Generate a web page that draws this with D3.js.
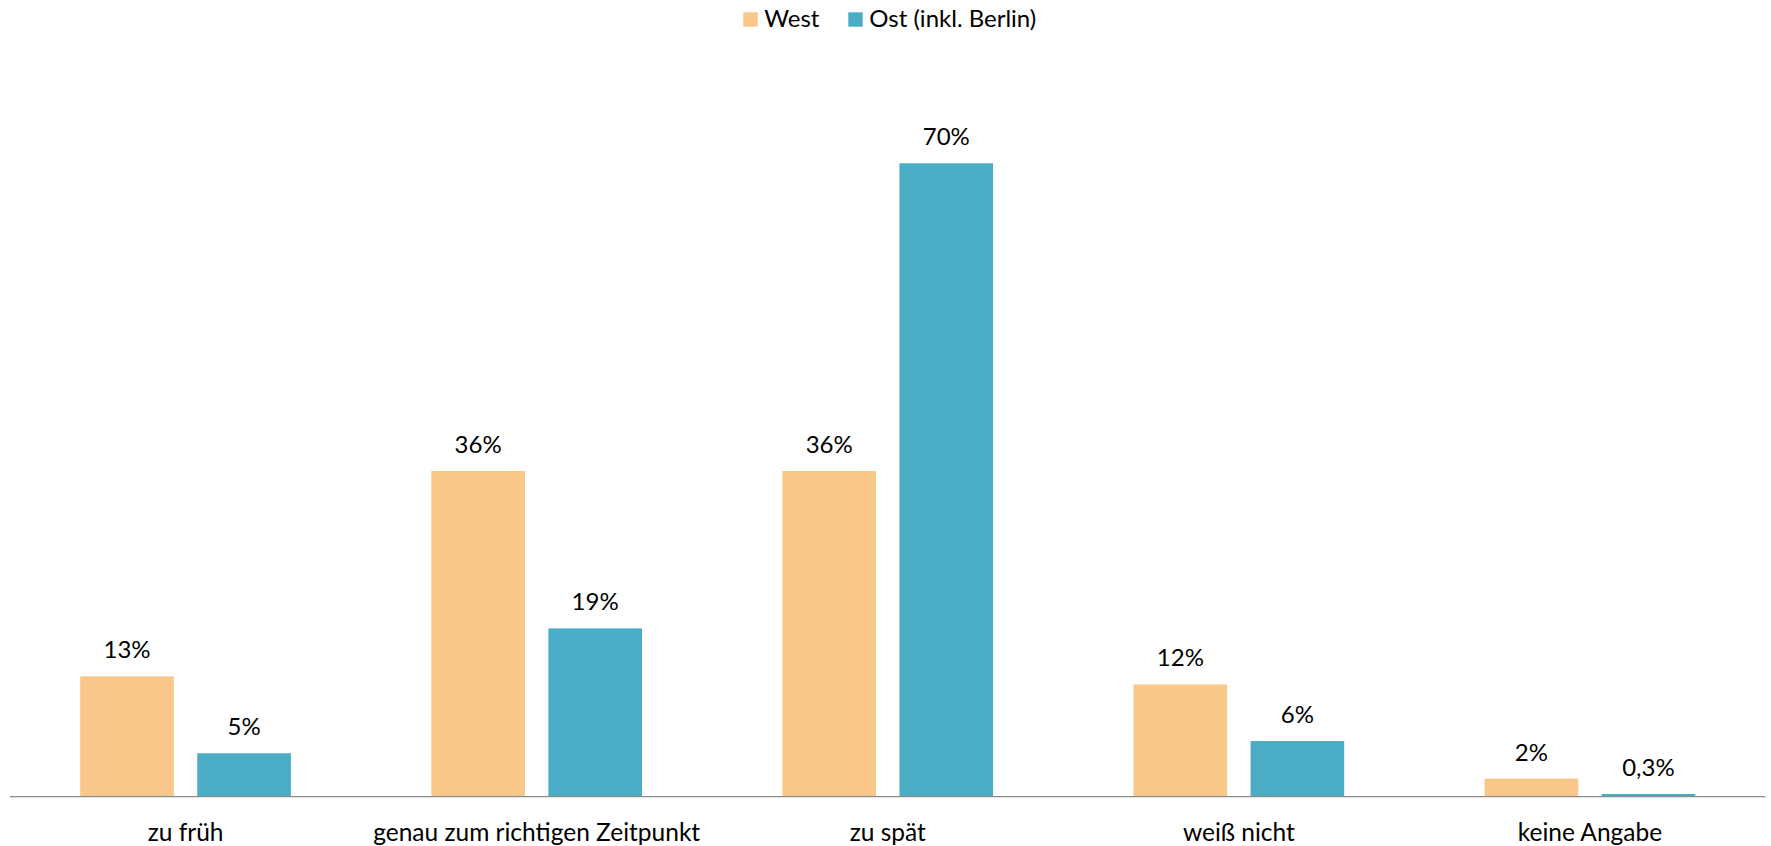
<!DOCTYPE html>
<html lang="de">
  <head>
    <meta charset="UTF-8" />
    <title>West / Ost</title>
    <script src="https://d3js.org/d3.v7.min.js"></script>
    <style>
      html, body { margin: 0; padding: 0; background: #fff; }
      svg { display: block; font-family: Lato, "Open Sans", sans-serif; }
    </style>
  </head>
  <body>
    <div id="chart"></div>
    <script>
      const categories = ["zu früh", "genau zum richtigen Zeitpunkt", "zu spät", "weiß nicht", "keine Angabe"];
      const seriesNames = ["West", "Ost (inkl. Berlin)"];
      const westValues = [13.3, 36, 36, 12.4, 2];
      const ostValues = [4.8, 18.6, 70, 6.15, 0.3];
      const seriesColors = ["#F8C789", "#4BACC6"];

      const width = 1771, height = 846;
      const left = 10, right = 1765.5, baseY = 796.7, topY = 163.3;

      const svg = d3.select("#chart").append("svg")
        .attr("width", width).attr("height", height);

      const x0 = d3.scaleBand().domain(categories).range([left, right])
        .paddingInner(0.4).paddingOuter(0.2);
      const x1 = d3.scaleBand().domain(seriesNames).range([0, x0.bandwidth()])
        .paddingInner(0.2);
      const y = d3.scaleLinear().domain([0, 70]).range([baseY, topY]);

      const fmt = v => (v < 1 ? d3.format(".1f")(v).replace(".", ",") : d3.format(".0f")(v)) + "%";

      const rows = categories.map((c, i) => ({
        cat: c,
        vals: [westValues[i], ostValues[i]]
      }));

      const groups = svg.selectAll("g.grp").data(rows).enter().append("g")
        .attr("class", "grp")
        .attr("transform", d => `translate(${x0(d.cat)},0)`);

      groups.selectAll("rect").data(d => d.vals.map((v, j) => ({ s: seriesNames[j], v, j })))
        .enter().append("rect")
        .attr("x", d => x1(d.s))
        .attr("y", d => y(d.v))
        .attr("width", x1.bandwidth())
        .attr("height", d => baseY - y(d.v))
        .attr("fill", d => seriesColors[d.j]);

      groups.selectAll("text.val").data(d => d.vals.map((v, j) => ({ s: seriesNames[j], v, j })))
        .enter().append("text")
        .attr("class", "val")
        .attr("x", d => x1(d.s) + x1.bandwidth() / 2)
        .attr("y", d => y(d.v) - 18)
        .attr("text-anchor", "middle")
        .attr("font-size", 24)
        .attr("fill", "#000")
        .text(d => fmt(d.v));

      // baseline axis
      svg.append("line")
        .attr("x1", left).attr("x2", right)
        .attr("y1", baseY).attr("y2", baseY)
        .attr("stroke", "#8c8c8c").attr("stroke-width", 1.3);

      svg.selectAll("text.cat").data(categories).enter().append("text")
        .attr("class", "cat")
        .attr("x", d => x0(d) + x0.bandwidth() / 2)
        .attr("y", 841)
        .attr("text-anchor", "middle")
        .attr("font-size", 24.5)
        .attr("fill", "#000")
        .text(d => d);

      // legend
      const legendX = [743.3, 848.3];
      const legend = svg.selectAll("g.leg").data(seriesNames).enter().append("g")
        .attr("class", "leg")
        .attr("transform", (d, i) => `translate(${legendX[i]},12.3)`);
      legend.append("rect").attr("width", 14.4).attr("height", 14.4)
        .attr("fill", (d, i) => seriesColors[i]);
      legend.append("text").attr("x", 21).attr("y", 14.8)
        .attr("font-size", 24).attr("fill", "#000").text(d => d);
    </script>
  </body>
</html>
